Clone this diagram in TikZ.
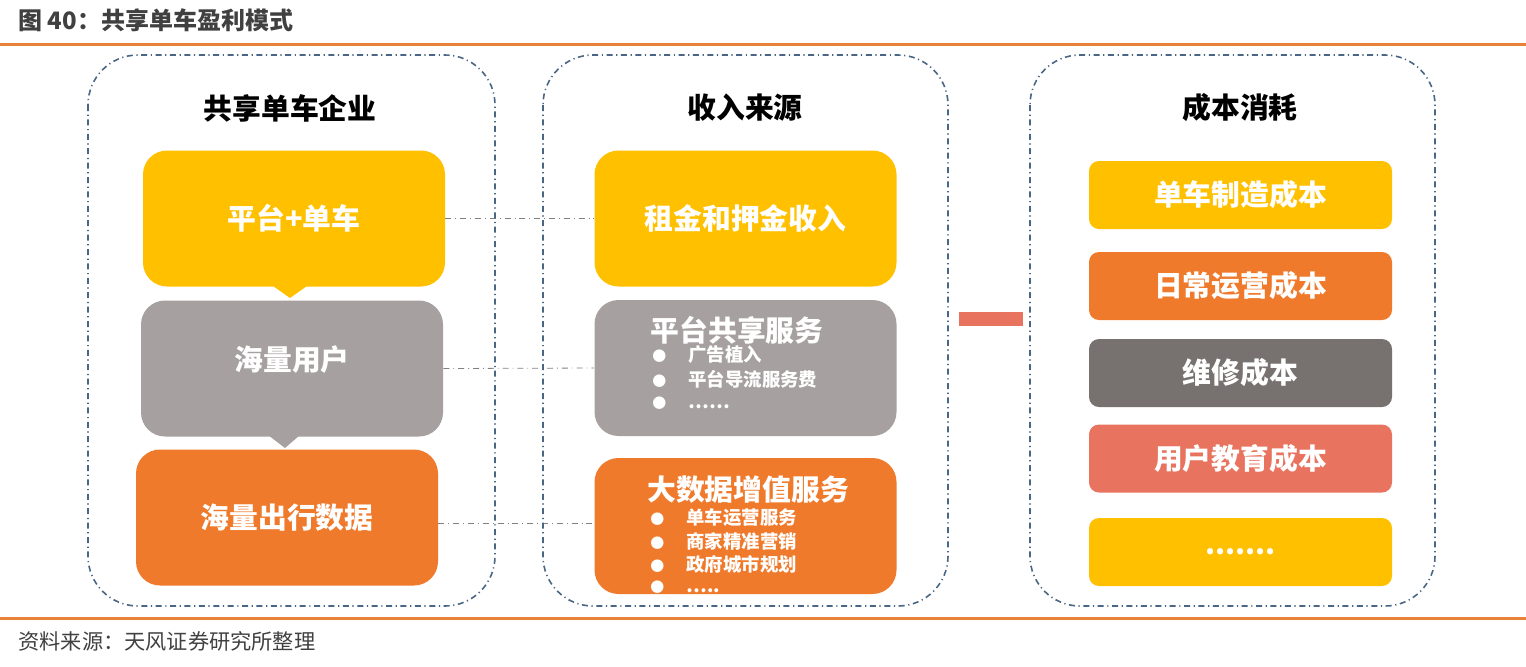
\documentclass[tikz,border=0pt]{standalone}
\usepackage{fontspec}
\setmainfont{Noto Sans CJK SC}
\usetikzlibrary{positioning}

\definecolor{rule}{HTML}{E8823A}
\definecolor{frameblue}{HTML}{4A6685}
\definecolor{gold}{HTML}{FFC000}
\definecolor{stone}{HTML}{A6A0A0}
\definecolor{tangerine}{HTML}{EF7A2B}
\definecolor{slate}{HTML}{77716F}
\definecolor{salmon}{HTML}{E8735E}
\definecolor{inkgray}{HTML}{404040}

\begin{document}
\begin{tikzpicture}[x=0.5pt,y=-0.5pt,
  panel/.style={draw=frameblue,dash pattern=on 3pt off 1.8pt on 0.6pt off 1.8pt,rounded corners=25pt,line width=0.8pt},
  bigbox/.style={rounded corners=12pt,minimum width=151pt,minimum height=68pt,inner sep=0pt},
  costbox/.style={rounded corners=5pt,minimum width=151.5pt,minimum height=34pt,inner sep=0pt,
    text=white,font=\bfseries\fontsize{14.4}{16}\selectfont},
  bigtext/.style={text=white,font=\bfseries\fontsize{14.4}{16}\selectfont,inner sep=0pt},
  head/.style={font=\bfseries\fontsize{14.4}{16}\selectfont,inner sep=0pt},
  item/.style={text=white,font=\bfseries\fontsize{9.2}{10}\selectfont,inner sep=0pt,anchor=west},
  link/.style={draw=gray,dash dot,line width=0.4pt}]
\useasboundingbox (0,0) rectangle (1526,666);

% title and rules
\node[anchor=west,inner sep=0pt,text=inkgray,font=\bfseries\fontsize{12}{14}\selectfont] (title) at (18,20) {图 40：共享单车盈利模式};
\draw[rule,line width=1.5pt] (0,44)--(1526,44);
\draw[rule,line width=1.5pt] (0,618)--(1526,618);
\node[anchor=west,inner sep=0pt,text=inkgray,font=\fontsize{10.6}{12}\selectfont] (source) at (18,641) {资料来源：天风证券研究所整理};

% connectors (under the panels)
\node[bigbox,fill=gold] (bike) at (294,218.5) {};
\node[bigbox,fill=stone] (users) at (292,368.5) {};
\node[bigbox,fill=tangerine] (trips) at (287,517.5) {};
\node[bigbox,fill=gold] (rent) at (745.5,218.5) {};
\node[bigbox,fill=stone] (share) at (745.5,368) {};
\node[bigbox,fill=tangerine] (bigdata) at (745.5,526) {};
\draw[link] (bike.east)--(rent.west);
\draw[link] (users.east)--(share.west);
\draw[link] ([yshift=-3pt]trips.east)--([yshift=-3pt]trips.east -| bigdata.west);

% panels
\draw[panel] (88,55) rectangle (495,606);
\draw[panel] (543,55) rectangle (948,606);
\draw[panel] (1030,55) rectangle (1435,606);
\node[head] (firm) at (290,108) {共享单车企业};
\node[head] (income) at (745,108) {收入来源};
\node[head] (cost) at (1240,108) {成本消耗};

% left column
\fill[gold] (273,286)--(307,286)--(290,298)--cycle;
\fill[stone] (268,435)--(300,435)--(285,448)--cycle;
\node[bigtext] (bikelbl) at (bike) {平台+单车};
\node[bigtext] (userslbl) at (292,360) {海量用户};
\node[bigtext] (tripslbl) at (287,518) {海量出行数据};

% middle column
\node[bigtext] (rentlbl) at (rent) {租金和押金收入};
\node[bigtext] (sharelbl) at (737,330) {平台共享服务};
\node[item] (s1) at (652,355) {{\fontsize{7}{7}\selectfont ●}\hspace{11pt}广告植入};
\node[item] (s2) at (652,379) {{\fontsize{7}{7}\selectfont ●}\hspace{11pt}平台导流服务费};
\node[item] (s3) at (652,403) {{\fontsize{7}{7}\selectfont ●}\hspace{11pt}……};
\node[bigtext] (datalbl) at (748,490) {大数据增值服务};
\node[item] (d1) at (650,518) {{\fontsize{7}{7}\selectfont ●}\hspace{11pt}单车运营服务};
\node[item] (d2) at (650,541) {{\fontsize{7}{7}\selectfont ●}\hspace{11pt}商家精准营销};
\node[item] (d3) at (650,564) {{\fontsize{7}{7}\selectfont ●}\hspace{11pt}政府城市规划};
\node[item] (d4) at (650,587) {{\fontsize{7}{7}\selectfont ●}\hspace{11pt}…..};

% minus sign
\fill[salmon] (959,312) rectangle (1023,326);

% right column
\node[costbox,fill=gold] (make) at (1240.5,195) {单车制造成本};
\node[costbox,fill=tangerine] (daily) at (1240.5,286) {日常运营成本};
\node[costbox,fill=slate] (repair) at (1240.5,373) {维修成本};
\node[costbox,fill=salmon] (teach) at (1240.5,458.5) {用户教育成本};
\node[costbox,fill=gold] (more) at (1240.5,552) {.......};
\end{tikzpicture}
\end{document}
